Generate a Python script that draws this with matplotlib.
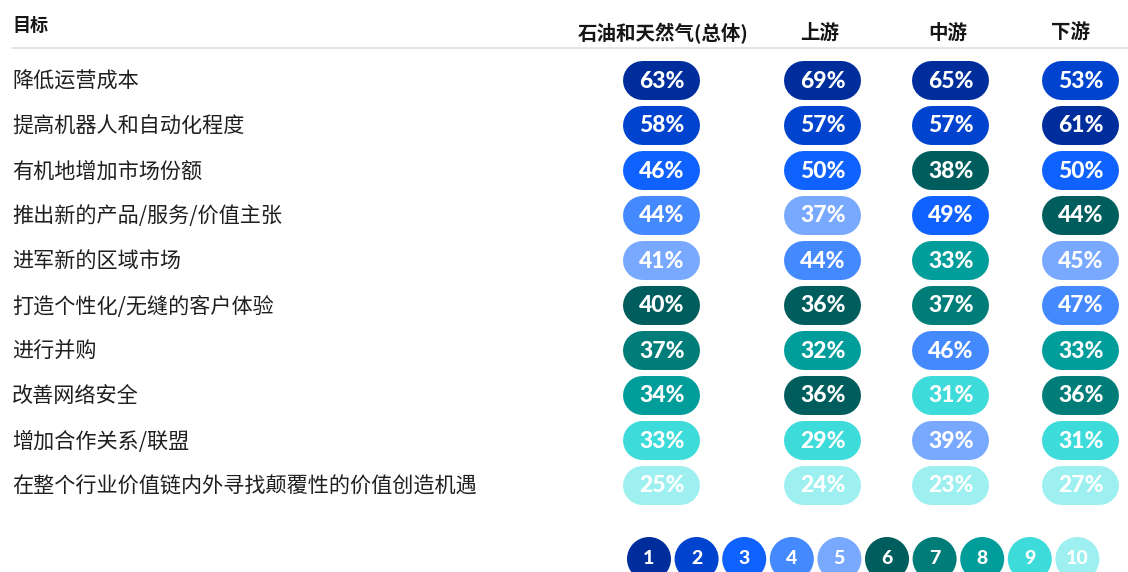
import matplotlib.pyplot as plt
from matplotlib.patches import Circle

plt.rcParams['font.family'] = ['Noto Sans CJK SC', 'DejaVu Sans']

goals = [
    '降低运营成本',
    '提高机器人和自动化程度',
    '有机地增加市场份额',
    '推出新的产品/服务/价值主张',
    '进军新的区域市场',
    '打造个性化/无缝的客户体验',
    '进行并购',
    '改善网络安全',
    '增加合作关系/联盟',
    '在整个行业价值链内外寻找颠覆性的价值创造机遇',
]
columns = ['石油和天然气(总体)', '上游', '中游', '下游']

overall = [63, 58, 46, 44, 41, 40, 37, 34, 33, 25]
upstream = [69, 57, 50, 37, 44, 36, 32, 36, 29, 24]
midstream = [65, 57, 38, 49, 33, 37, 46, 31, 39, 23]
downstream = [53, 61, 50, 44, 45, 47, 33, 36, 31, 27]

rank_colors = ['#002d9c', '#0043ce', '#0f62fe', '#4589ff', '#78a9ff',
               '#005d5d', '#007d79', '#009d9a', '#3ddbd9', '#9ef0f0']

W, H = 1128, 572
fig = plt.figure(figsize=(W / 100, H / 100), dpi=100)
ax = fig.add_axes([0, 0, 1, 1])
ax.set_xlim(0, W)
ax.set_ylim(H, 0)
ax.axis('off')

col_x = [661, 822, 950, 1080]
head_x = [663, 820, 948, 1071]
row_y0, row_step = 80, 45
pill_w, pill_h = 77, 39
num_font = ['Lato', 'DejaVu Sans']


def pill(cx, cy, color):
    # thick line with round caps -> capsule shape
    half = (pill_w - pill_h) / 2
    ax.plot([cx - half, cx + half], [cy, cy], color=color, lw=pill_h * 0.72,
            solid_capstyle='round')


# header
ax.text(12, 25, '目标', fontsize=13, fontweight='bold', color='#161616', va='center')
for name, hx in zip(columns, head_x):
    ax.text(hx, 33, name, fontsize=14, fontweight='bold', color='#161616',
            ha='center', va='center')
ax.plot([12, W], [48, 48], color='#e0e0e0', lw=1.2)

for i, g in enumerate(goals):
    ax.text(12, row_y0 + i * row_step + 1.5, g, fontsize=15.2, color='#1f1f1f', va='center')

series = [overall, upstream, midstream, downstream]
for cx, vals in zip(col_x, series):
    for i, v in enumerate(vals):
        rank = sum(1 for o in vals if o > v)  # ties share the higher rank
        y = row_y0 + i * row_step
        pill(cx, y, rank_colors[rank])
        ax.text(cx + 1, y + 1, f'{v}%', fontsize=16.5, fontweight='black', color='white',
                ha='center', va='center', family=num_font)

# rank legend
leg_x0, leg_step, leg_y = 649, 47.6, 559
for k, c in enumerate(rank_colors):
    lx = leg_x0 + k * leg_step
    ax.add_patch(Circle((lx, leg_y), 22, facecolor=c, edgecolor='none'))
    ax.text(lx, leg_y, str(k + 1), fontsize=14, fontweight='black', color='white',
            ha='center', va='center', family=num_font)

fig.savefig('out.png', dpi=100)
